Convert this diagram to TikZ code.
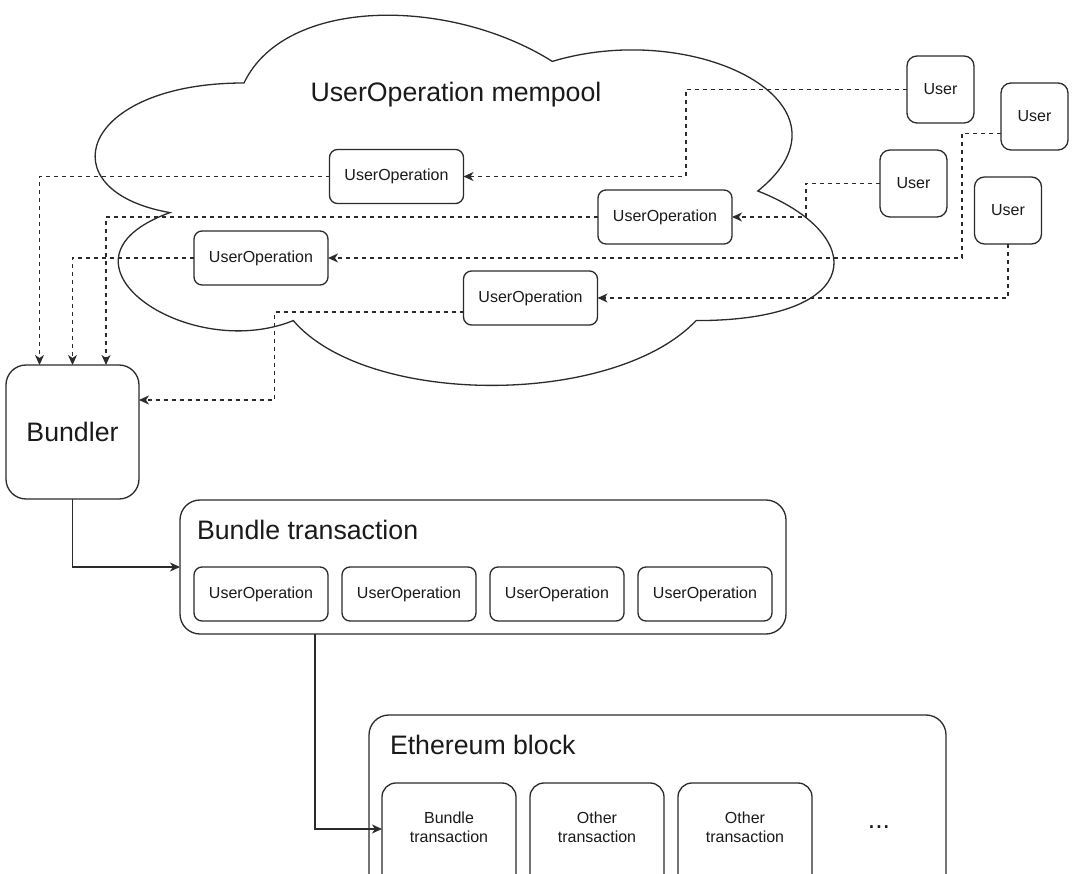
\documentclass[tikz,border=0pt]{standalone}
\usepackage{fontspec}
\setmainfont{Liberation Sans}
\usetikzlibrary{arrows.meta}
\definecolor{ln}{HTML}{2B2B2B}
\definecolor{tx}{HTML}{1A1A1A}
\begin{document}
\begin{tikzpicture}[x=1pt,y=-1pt,
  every node/.style={inner sep=0pt, outer sep=0pt},
  smallfont/.style={font=\fontsize{16}{19}\selectfont, text=tx},
  bigfont/.style={font=\fontsize{26.7}{32}\selectfont, text=tx},
  uobox/.style={smallfont, draw=ln, line width=1.3pt, fill=white, rounded corners=8pt, minimum width=134pt, minimum height=54pt, align=center},
  userbox/.style={uobox, minimum width=67pt, minimum height=67pt, rounded corners=10pt},
  bigbox/.style={draw=ln, line width=1.3pt, fill=white, rounded corners=20pt},
  txbox/.style={draw=ln, line width=1.3pt, fill=white, rounded corners=14pt, minimum width=134pt, minimum height=120pt, anchor=north},
  tip/.style={-{Stealth[length=10pt,width=9pt,inset=3pt]}},
  flow/.style={draw=ln, line width=1.3pt, dash pattern=on 4pt off 4pt, tip},
  solidflow/.style={draw=ln, line width=1.3pt, tip}
]
\useasboundingbox (0,0) rectangle (1080,874);
\clip (0,0) rectangle (1080,874);

% cloud
\draw[ln, line width=1.3pt] (244,83)
  .. controls (79.6,83) and (46,191) .. (170,212.6)
  .. controls (38.5,260) and (186.5,363.8) .. (293.3,320.6)
  .. controls (367.3,407) and (613.9,407) .. (696.1,320.6)
  .. controls (868,320.6) and (868,234.2) .. (757.8,191)
  .. controls (866,104.6) and (696.1,18.2) .. (552.3,61.4)
  .. controls (449.5,-3.4) and (285.1,-3.4) .. (244,83) -- cycle;
\node[bigfont] (title) at (456,95) {UserOperation mempool};

% user operations in mempool
\node[uobox] (uo1) at (396.5,176.5) {UserOperation};
\node[uobox] (uo2) at (665,217) {UserOperation};
\node[uobox] (uo3) at (261,258) {UserOperation};
\node[uobox] (uo4) at (530.5,298) {UserOperation};

% users
\node[userbox] (u1) at (940.5,89.5) {User};
\node[userbox] (u2) at (1034.5,116.5) {User};
\node[userbox] (u3) at (913.5,183.5) {User};
\node[userbox] (u4) at (1008,210.5) {User};

% bundler
\node[bigbox, bigfont, minimum width=133pt, minimum height=134pt] (bundler) at (72.5,432) {Bundler};

% bundle transaction
\node[bigbox, minimum width=606pt, minimum height=134pt] (bt) at (483,567) {};
\node[bigfont, anchor=west] (bttitle) at (197,530) {Bundle transaction};
\node[uobox] (b1) at (261,594) {UserOperation};
\node[uobox] (b2) at (409,594) {UserOperation};
\node[uobox] (b3) at (557,594) {UserOperation};
\node[uobox] (b4) at (705,594) {UserOperation};

% ethereum block
\node[bigbox, minimum width=577pt, minimum height=220pt, anchor=north] (eb) at (657.5,715) {};
\node[bigfont, anchor=west] (ebtitle) at (390,745) {Ethereum block};
\node[txbox] (e1) at (449,783) {};
\node[txbox] (e2) at (597,783) {};
\node[txbox] (e3) at (745,783) {};
\node[smallfont, align=center] (e1t) at (449,827) {Bundle\\transaction};
\node[smallfont, align=center] (e2t) at (597,827) {Other\\transaction};
\node[smallfont, align=center] (e3t) at (745,827) {Other\\transaction};
\node[bigfont] (dots) at (879,827) {...};

% users -> user operations
\draw[flow] (u1.west) -- ++(-221,0) |- (uo1.east);
\draw[flow] (u3.west) -- ++(-74,0) |- (uo2.east);
\draw[flow] ([yshift=-17pt]u2.west) -- ++(-39,0) |- (uo3.east);
\draw[flow] (u4.south) |- (uo4.east);

% user operations -> bundler
\draw[flow] (uo1.west) -| ([xshift=-33pt]bundler.north);
\draw[flow] (uo2.west) -| ([xshift=33.5pt]bundler.north);
\draw[flow] (uo3.west) -| (bundler.north);
\draw[flow] ([yshift=-14pt]uo4.west) -- ++(-189,0) |- ([yshift=32pt]bundler.east);

% bundler -> bundle transaction -> block
\draw[solidflow] (bundler.south) |- (bt.west);
\draw[solidflow] ([xshift=-168pt]bt.south) |- ([yshift=14pt]e1.west);
\end{tikzpicture}
\end{document}
